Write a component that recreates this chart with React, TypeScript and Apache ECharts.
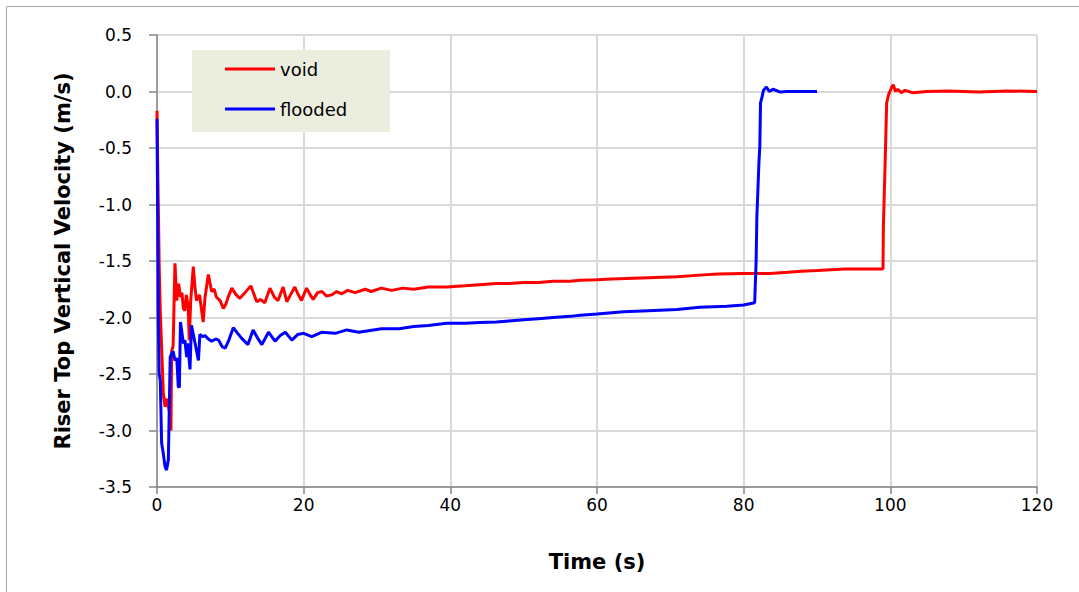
import React, { useEffect, useRef } from "react";
import * as echarts from "echarts";

const voidT = [0, 0.1, 0.2, 0.3, 0.45, 0.63, 0.86, 1.1, 1.3, 1.55, 1.75, 1.9, 2.0, 2.2, 2.45, 2.7, 2.95, 3.2, 3.4, 3.6, 3.8, 4.0, 4.25, 4.4, 4.6, 4.95, 5.2, 5.4, 5.8, 6.3, 6.55, 7.0, 7.45, 7.8, 8.1, 8.6, 9.05, 9.4, 9.7, 10.2, 10.8, 11.3, 12.0, 12.8, 13.6, 14.1, 14.7, 15.4, 16.0, 16.5, 17.2, 17.7, 18.2, 18.8, 19.2, 19.7, 20.4, 20.9, 21.3, 21.9, 22.5, 23.1, 23.8, 24.5, 25.2, 26.0, 27.0, 28.4, 29.2, 30.6, 32, 33.5, 35, 37, 39.5, 42, 44, 46.3, 48, 50, 52, 54, 56.3, 57.7, 60, 62, 64, 66, 68, 70.9, 74, 76.5, 80, 83.6, 86, 87.9, 90, 93.8, 96, 99.0, 99.05, 99.3, 99.5, 99.8, 99.95, 100.2, 100.4, 100.7, 101, 101.5, 102, 103, 105, 108, 112, 116, 120];
const voidV = [-0.17, -0.67, -1.1, -1.55, -1.95, -2.26, -2.67, -2.79, -2.72, -2.79, -2.85, -3.0, -2.3, -2.25, -1.52, -1.85, -1.7, -1.82, -1.78, -1.92, -1.94, -1.8, -1.9, -2.2, -1.85, -1.55, -1.75, -1.85, -1.8, -2.04, -1.82, -1.62, -1.77, -1.75, -1.82, -1.85, -1.92, -1.88, -1.82, -1.74, -1.8, -1.83, -1.78, -1.72, -1.86, -1.84, -1.87, -1.74, -1.82, -1.85, -1.73, -1.86, -1.8, -1.73, -1.79, -1.85, -1.74, -1.8, -1.84, -1.78, -1.77, -1.81, -1.8, -1.77, -1.79, -1.76, -1.78, -1.75, -1.77, -1.74, -1.76, -1.74, -1.75, -1.73, -1.73, -1.72, -1.71, -1.7, -1.7, -1.69, -1.69, -1.68, -1.68, -1.67, -1.665, -1.66, -1.655, -1.65, -1.645, -1.64, -1.625, -1.615, -1.61, -1.61, -1.6, -1.59, -1.585, -1.57, -1.57, -1.57, -1.2, -0.61, -0.1, -0.02, 0.0, 0.04, 0.06, 0.0, 0.02, -0.01, 0.01, -0.01, 0.0, 0.005, -0.005, 0.005, 0.0];

const floodedT = [0, 0.08, 0.18, 0.3, 0.45, 0.63, 0.85, 1.1, 1.3, 1.55, 1.8, 2.0, 2.2, 2.45, 2.7, 2.9, 3.05, 3.2, 3.6, 3.8, 4.05, 4.2, 4.5, 4.7, 5.2, 5.65, 5.85, 6.2, 6.55, 7.0, 7.45, 8.0, 8.4, 8.9, 9.3, 9.8, 10.4, 11.0, 11.5, 12.4, 13.1, 13.7, 14.3, 15.2, 16.1, 16.8, 17.5, 18.4, 19.2, 20, 21.1, 22.5, 24.3, 25.9, 27.5, 30.6, 33, 35, 37, 39.5, 42, 44, 46.3, 48, 50, 52, 54, 56.3, 57.7, 60, 63.6, 67, 70.9, 74, 77.7, 80, 81.5, 81.7, 81.8, 82.1, 82.2, 82.3, 82.5, 82.7, 83.1, 83.5, 84, 85, 85.9, 88, 90];
const floodedV = [-0.24, -1.0, -2.0, -2.5, -2.56, -3.11, -3.2, -3.32, -3.35, -3.26, -2.35, -2.32, -2.3, -2.38, -2.36, -2.61, -2.62, -2.04, -2.23, -2.2, -2.35, -2.23, -2.46, -2.07, -2.23, -2.38, -2.15, -2.17, -2.16, -2.19, -2.21, -2.19, -2.2, -2.26, -2.27, -2.2, -2.09, -2.14, -2.18, -2.24, -2.11, -2.18, -2.24, -2.13, -2.21, -2.16, -2.13, -2.2, -2.15, -2.14, -2.17, -2.13, -2.14, -2.11, -2.13, -2.1, -2.1, -2.08, -2.07, -2.05, -2.05, -2.045, -2.04, -2.03, -2.02, -2.01, -2.0, -1.99, -1.98, -1.97, -1.95, -1.94, -1.93, -1.91, -1.9, -1.89, -1.87, -1.5, -1.11, -0.6, -0.49, -0.1, -0.05, 0.01, 0.04, 0.0, 0.02, -0.005, 0.0, 0.0, 0.0];

const seriesNames = ["void", "flooded"];
const seriesColors = ["#FF0000", "#0000FF"];
const xTitle = "Time (s)";
const yTitle = "Riser Top Vertical Velocity (m/s)";

const FONT = "DejaVu Sans";

export default function App() {
  const ref = useRef<HTMLDivElement>(null);
  useEffect(() => {
    const chart = echarts.init(ref.current!, null, { renderer: "svg" });
    const pairs = (t: number[], v: number[]) => t.map((x, i) => [x, v[i]]);
    chart.setOption({
      animation: false,
      backgroundColor: "#ffffff",
      grid: { left: 157, right: 42, top: 35, bottom: 105, containLabel: false },
      graphic: [
        {
          type: "rect",
          shape: { x: 6.5, y: 6.5, width: 1100, height: 620 },
          style: { fill: "none", stroke: "#a6a6a6", lineWidth: 1 },
          z: 0,
        },
        {
          type: "rect",
          shape: { x: 192, y: 50, width: 198, height: 82 },
          style: { fill: "#EBEDDF" },
          z: 5,
        },
      ],
      legend: {
        show: true,
        orient: "vertical",
        left: 192,
        top: 50,
        padding: [10, 10, 10, 33],
        itemGap: 22,
        itemWidth: 50,
        itemHeight: 3,
        icon: "rect",
        z: 6,
        textStyle: { fontFamily: FONT, fontSize: 18, color: "#000" },
        data: seriesNames,
      },
      xAxis: {
        type: "value",
        min: 0,
        max: 120,
        interval: 20,
        name: xTitle,
        nameLocation: "middle",
        nameGap: 64,
        nameTextStyle: { fontFamily: FONT, fontSize: 21, fontWeight: "bold", color: "#000" },
        axisLine: { onZero: false, lineStyle: { color: "#868686", width: 1.5 } },
        axisTick: { show: true, inside: false, length: 7, lineStyle: { color: "#868686", width: 1.5 } },
        axisLabel: { fontFamily: FONT, fontSize: 17, color: "#000", margin: 9 },
        splitLine: { show: true, lineStyle: { color: "#d9d9d9", width: 2 } },
      },
      yAxis: {
        type: "value",
        min: -3.5,
        max: 0.5,
        interval: 0.5,
        name: yTitle,
        nameLocation: "middle",
        nameRotate: 90,
        nameGap: 84,
        nameTextStyle: { fontFamily: FONT, fontSize: 21, fontWeight: "bold", color: "#000" },
        axisLine: { show: true, onZero: false, lineStyle: { color: "#868686", width: 1.5 } },
        axisTick: { show: true, inside: false, length: 8, lineStyle: { color: "#868686", width: 1.5 } },
        axisLabel: {
          fontFamily: FONT,
          fontSize: 17,
          color: "#000",
          margin: 25,
          formatter: (v: number) => v.toFixed(1),
        },
        splitLine: { show: true, lineStyle: { color: "#d9d9d9", width: 2 } },
      },
      series: [
        {
          name: seriesNames[0],
          type: "line",
          data: pairs(voidT, voidV),
          showSymbol: false,
          symbol: "none",
          lineStyle: { color: seriesColors[0], width: 3 },
          itemStyle: { color: seriesColors[0] },
          z: 3,
        },
        {
          name: seriesNames[1],
          type: "line",
          data: pairs(floodedT, floodedV),
          showSymbol: false,
          symbol: "none",
          lineStyle: { color: seriesColors[1], width: 3 },
          itemStyle: { color: seriesColors[1] },
          z: 4,
        },
      ],
    });
    return () => chart.dispose();
  }, []);
  return (
    <div
      ref={ref}
      style={{ position: "fixed", left: 0, top: 0, width: 1079, height: 592, background: "#fff" }}
    />
  );
}
